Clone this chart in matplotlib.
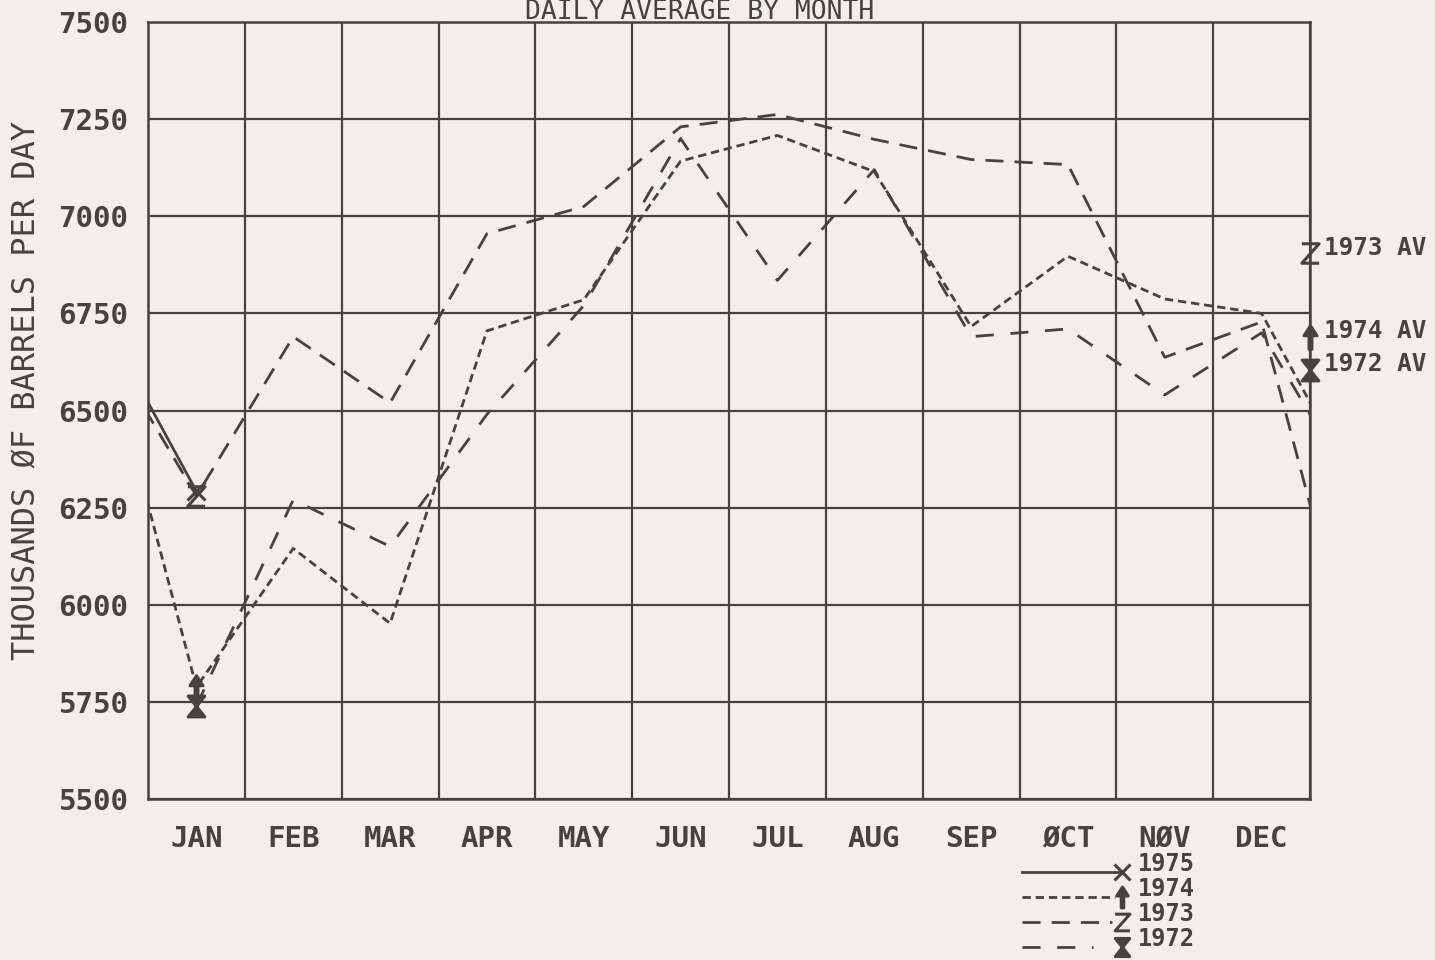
import numpy as np
import matplotlib.pyplot as plt
from matplotlib.path import Path
from matplotlib.lines import Line2D

plt.rcParams['font.family'] = ['DejaVu Sans Mono', 'DejaVu Sans']
plt.rcParams['lines.scale_dashes'] = False

months = ['JAN', 'FEB', 'MAR', 'APR', 'MAY', 'JUN', 'JUL', 'AUG', 'SEP', 'ØCT', 'NØV', 'DEC']

# daily average by month, thousands of barrels per day
y1972 = [5740, 6270, 6150, 6490, 6770, 7200, 6835, 7120, 6690, 6710, 6540, 6700]
y1973 = [6280, 6690, 6520, 6955, 7025, 7230, 7262, 7198, 7146, 7133, 6637, 6728]
y1974 = [5788, 6145, 5952, 6705, 6785, 7142, 7208, 7115, 6716, 6897, 6787, 6750]
y1975 = [6292]

order = ['1972', '1973', '1974', '1975']
data = {'1972': y1972, '1973': y1973, '1974': y1974, '1975': y1975}

# yearly averages marked on the right edge
av_years = ['1973', '1974', '1972']
av_values = [6905, 6690, 6605]

ink = '#46423f'
paper = '#f2efeb'

# plotter style markers
arrow = Path([(-0.12, -1), (0.12, -1), (0.12, 0.15), (0.55, 0.15), (0, 1),
              (-0.55, 0.15), (-0.12, 0.15), (-0.12, -1)],
             [Path.MOVETO] + [Path.LINETO] * 6 + [Path.CLOSEPOLY])
zee = Path([(-0.8, 0.9), (0.8, 0.9), (-0.8, -0.9), (0.8, -0.9)])
bowtie = Path([(-0.8, 1), (0.8, 1), (-0.8, -1), (0.8, -1), (-0.8, 1)],
              [Path.MOVETO, Path.LINETO, Path.LINETO, Path.LINETO, Path.CLOSEPOLY])

style = {
    '1975': dict(ls='-', marker='x', ms=13, mfc=ink),
    '1974': dict(ls=(0, (6, 3.5)), marker=arrow, ms=17, mfc=ink),
    '1973': dict(ls=(0, (13, 8)), marker=zee, ms=14, mfc='none'),
    '1972': dict(ls=(0, (13, 12)), marker=bowtie, ms=15, mfc=ink),
}

fig = plt.figure(figsize=(14.35, 9.6), dpi=100, facecolor=paper)
ax = fig.add_axes([148 / 1435, 1 - 799 / 960, (1310 - 148) / 1435, (799 - 22) / 960])
ax.set_facecolor(paper)

for k, yr in enumerate(order):
    vals = list(data[yr])
    xs = list(np.arange(len(vals)) + 0.5)
    first = 0
    # lines run on across the year boundary (previous Dec / next Jan), clipped at the frame
    if k > 0:
        vals = [data[order[k - 1]][-1]] + vals
        xs = [-0.5] + xs
        first = 1
    if k < len(order) - 1:
        vals = vals + [data[order[k + 1]][0]]
        xs = xs + [12.5]
    st = style[yr]
    ax.plot(xs, vals, color=ink, lw=2, ls=st['ls'], marker=st['marker'],
            ms=st['ms'], mfc=st['mfc'], mec=ink, mew=2.2, markevery=[first])

for yr, v in zip(av_years, av_values):
    st = style[yr]
    ax.plot([12], [v], ls='none', marker=st['marker'], ms=st['ms'], mfc=st['mfc'],
            mec=ink, mew=2.2, clip_on=False, zorder=5)
    ax.annotate(f'{yr} AV', (12, v), xytext=(10, 4), textcoords='offset points',
                ha='left', va='center', fontsize=17.5, color=ink, fontweight='bold',
                annotation_clip=False)

ax.set_xlim(0, 12)
ax.set_ylim(5500, 7500)
ax.set_xticks(np.arange(13))
ax.set_xticklabels([])
ax.set_xticks(np.arange(12) + 0.5, minor=True)
ax.set_xticklabels(months, minor=True)
ax.set_yticks(np.arange(5500, 7501, 250))
ax.grid(True, which='major', color=ink, lw=1.6)
ax.tick_params(which='both', length=0, colors=ink, labelsize=21)
ax.tick_params(axis='y', pad=14)
ax.tick_params(axis='x', which='minor', pad=19)
for lab in ax.get_xticklabels(minor=True) + ax.get_yticklabels():
    lab.set_fontweight('bold')
for sp in ax.spines.values():
    sp.set_color(ink)
    sp.set_linewidth(1.8)

fig.text(27 / 1435, 1 - 390 / 960, 'THOUSANDS ØF BARRELS PER DAY', rotation=90,
         ha='center', va='center', fontsize=23, color=ink)
fig.text(700 / 1435, 1 - 19 / 960, 'DAILY AVERAGE BY MONTH', ha='center',
         va='baseline', fontsize=19, color=ink)


# hand drawn key below the month labels
def px(x, y):
    return x / 1435, 1 - y / 960


key_rows = [('1975', 1118, 872), ('1974', 1115, 897), ('1973', 1112, 922), ('1972', 1093, 947)]
for yr, x_end, y in key_rows:
    st = style[yr]
    (x0, y0), (x1, _) = px(1022, y), px(x_end, y)
    fig.add_artist(Line2D([x0, x1], [y0, y0], color=ink, lw=2, ls=st['ls']))
    mx, my = px(1122, y)
    fig.add_artist(Line2D([mx], [my], ls='none', marker=st['marker'], ms=st['ms'] - 2,
                          mfc=st['mfc'], mec=ink, mew=2.2))
    tx, ty = px(1138, y - 8)
    fig.text(tx, ty, yr, ha='left', va='center', fontsize=17, color=ink, fontweight='bold')

fig.savefig('out.png', dpi=100, facecolor=paper)
